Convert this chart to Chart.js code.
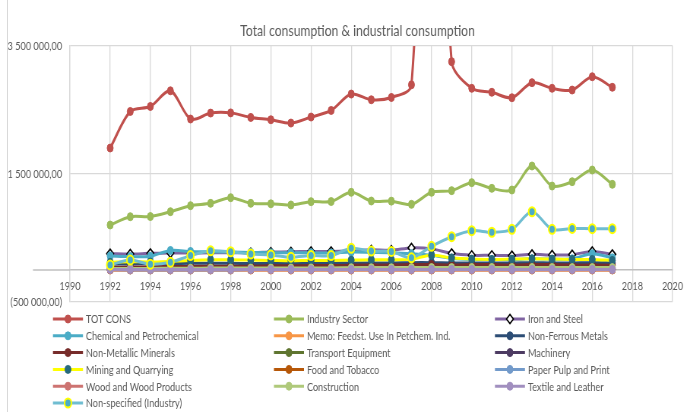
<!DOCTYPE html>
<html>
<head>
<meta charset="utf-8">
<title>Total consumption &amp; industrial consumption</title>
<script src="https://cdn.jsdelivr.net/npm/chart.js@4.4.1/dist/chart.umd.min.js"></script>
<style>
  html, body { margin: 0; padding: 0; background: #fff; overflow: hidden; }
  #wrap { position: relative; width: 690px; height: 412px; overflow: hidden; background: #fff; }
  #c { position: absolute; left: 0; top: 0; transform-origin: 0 0; }
  #edge { position: absolute; left: 7px; top: 0; width: 1px; height: 412px; background: #D9D9D9; }
</style>
</head>
<body>
<div id="wrap"><canvas id="c"></canvas><div id="edge"></div></div>
<script>
// Years on the horizontal axis
const years = [1992, 1993, 1994, 1995, 1996, 1997, 1998, 1999, 2000, 2001, 2002, 2003, 2004,
               2005, 2006, 2007, 2008, 2009, 2010, 2011, 2012, 2013, 2014, 2015, 2016, 2017];

// Axis ranges and tick steps
const xRange = [1990, 2020];
const xStep = 2;
const yRange = [-500000, 3500000];
const yStep = 2000000;

// Series values
const totCons = [1906000, 2477000, 2555000, 2800000, 2359000, 2452000, 2455000, 2384000, 2348000, 2296000,
                 2390000, 2493000, 2749000, 2660000, 2696000, 2894000, 10500000, 3255000, 2839000, 2777000,
                 2692000, 2927000, 2839000, 2812000, 3020000, 2855000];
const industrySector = [703000, 833000, 835000, 911000, 1005000, 1042000, 1130000, 1042000, 1035000, 1016000,
                        1068000, 1070000, 1214000, 1078000, 1076000, 1026000, 1214000, 1240000, 1365000, 1276000,
                        1250000, 1625000, 1312000, 1380000, 1562000, 1339000];
const ironSteel = [255000, 250000, 260000, 265000, 265000, 270000, 270000, 270000, 280000, 285000,
                   290000, 290000, 300000, 315000, 310000, 345000, 330000, 260000, 230000, 230000,
                   225000, 245000, 235000, 240000, 290000, 245000];
const chemical = [220000, 210000, 215000, 305000, 290000, 285000, 280000, 275000, 270000, 270000,
                  270000, 265000, 280000, 275000, 270000, 255000, 230000, 180000, 165000, 165000,
                  165000, 175000, 170000, 175000, 255000, 190000];
const memoFeedstock = [0, 0, 0, 0, 0, 0, 0, 0, 0, 0, 0, 0, 0, 0, 0, 0, 0, 0, 0, 0, 0, 0, 0, 0, 0, 0];
const nonFerrous = [95000, 95000, 100000, 100000, 105000, 105000, 105000, 100000, 100000, 100000,
                    105000, 105000, 110000, 110000, 110000, 115000, 115000, 110000, 110000, 110000,
                    110000, 115000, 110000, 110000, 115000, 110000];
const nonMetallic = [45000, 45000, 50000, 55000, 55000, 60000, 60000, 60000, 65000, 65000,
                     70000, 70000, 75000, 80000, 80000, 85000, 85000, 80000, 85000, 85000,
                     80000, 85000, 85000, 80000, 80000, 75000];
const transport = [10000, 10000, 10000, 10000, 10000, 10000, 10000, 10000, 10000, 10000,
                   10000, 10000, 12000, 12000, 12000, 12000, 12000, 12000, 12000, 12000,
                   12000, 12000, 12000, 12000, 12000, 12000];
const machinery = [15000, 15000, 15000, 15000, 15000, 15000, 15000, 15000, 15000, 15000,
                   16000, 16000, 18000, 18000, 18000, 18000, 18000, 18000, 18000, 18000,
                   18000, 18000, 18000, 18000, 18000, 18000];
const mining = [120000, 130000, 125000, 135000, 150000, 160000, 160000, 155000, 150000, 145000,
                150000, 150000, 155000, 160000, 160000, 170000, 230000, 190000, 170000, 165000,
                170000, 175000, 170000, 165000, 165000, 150000];
const foodTobacco = [2000, 2000, 2000, 2000, 2000, 2000, 2000, 2000, 2000, 2000,
                     2000, 2000, 2000, 2000, 2000, 2000, 2000, 2000, 2000, 2000,
                     2000, 2000, 2000, 2000, 2000, 2000];
const paperPulp = [6000, 1000, 1000, 1000, 1000, 1000, 1000, 7000, 7000, 7000,
                   7000, 7000, 7000, 7000, 7000, 7000, 7000, 7000, 7000, 7000,
                   7000, 7000, 7000, 7000, 7000, 7000];
const woodProducts = [5000, 5000, 5000, 5000, 5000, 5000, 5000, 5000, 5000, 5000,
                      5000, 5000, 5000, 5000, 5000, 5000, 5000, 5000, 5000, 5000,
                      5000, 5000, 5000, 5000, 5000, 5000];
const construction = [25000, 25000, 25000, 28000, 28000, 30000, 30000, 30000, 30000, 30000,
                      32000, 32000, 35000, 35000, 35000, 38000, 38000, 38000, 40000, 40000,
                      40000, 40000, 40000, 38000, 38000, 38000];
const textileLeather = [9000, 9000, 9000, 9000, 9000, 9000, 9000, 9000, 9000, 9000,
                        9000, 9000, 9000, 9000, 9000, 9000, 9000, 9000, 9000, 9000,
                        9000, 9000, 9000, 9000, 9000, 9000];
const nonSpecified = [80000, 155000, 90000, 120000, 225000, 300000, 285000, 250000, 235000, 200000,
                      225000, 225000, 340000, 295000, 290000, 190000, 370000, 520000, 615000, 590000,
                      635000, 910000, 635000, 650000, 645000, 645000];

const chartTitle = 'Total consumption & industrial consumption';

// The drawing is laid out on a wider canvas and squeezed horizontally
const SQUEEZE = 0.76;
const W = Math.round(690 / SQUEEZE);
const H = 412;
const FONT = 'Lato, "Open Sans", "Liberation Sans", sans-serif';
const TEXT = '#595959';

function pts(vals) {
  return vals.map((v, i) => ({ x: years[i], y: v }));
}

function series(label, vals, color, extra) {
  return Object.assign({
    label: label,
    data: pts(vals),
    borderColor: color,
    backgroundColor: color,
    pointBackgroundColor: color,
    pointBorderColor: color,
    pointBorderWidth: 1,
    pointRadius: 4,
    pointStyle: 'circle',
    borderWidth: 3,
    tension: 0.3,
    fill: false
  }, extra || {});
}

const datasets = [
  series('TOT CONS', totCons, '#C0504D'),
  series('Industry Sector', industrySector, '#9BBB59'),
  series('Iron and Steel', ironSteel, '#8064A2',
         { pointStyle: 'rectRot', pointRadius: 4.5, pointBackgroundColor: '#FFFFFF', pointBorderColor: '#000000', pointBorderWidth: 1.6 }),
  series('Chemical and Petrochemical', chemical, '#4BACC6'),
  series('Memo: Feedst. Use In Petchem. Ind.', memoFeedstock, '#F79646'),
  series('Non-Ferrous Metals', nonFerrous, '#2C4D75'),
  series('Non-Metallic Minerals', nonMetallic, '#772C2A'),
  series('Transport Equipment', transport, '#5F7530'),
  series('Machinery', machinery, '#4D3B62'),
  series('Mining and Quarrying', mining, '#FFFF00',
         { pointBackgroundColor: '#276A7C', pointBorderColor: '#276A7C' }),
  series('Food and Tobacco', foodTobacco, '#B65708'),
  series('Paper Pulp and Print', paperPulp, '#729ACA'),
  series('Wood and Wood Products', woodProducts, '#CD7371'),
  series('Construction', construction, '#AFC97A'),
  series('Textile and Leather', textileLeather, '#A18FBF'),
  series('Non-specified (Industry)', nonSpecified, '#6FBDD1',
         { pointRadius: 4.5, pointBackgroundColor: '#4BACC6', pointBorderColor: '#FFFF00', pointBorderWidth: 2 })
];
// later series are painted over earlier ones
datasets.forEach((d, i) => { d.order = datasets.length - i; });

function numberLabel(v) {
  const neg = v < 0;
  const parts = Math.abs(v).toFixed(2).split('.');
  const whole = parts[0].replace(/\B(?=(\d{3})+(?!\d))/g, '\u00a0');
  const s = whole + ',' + parts[1];
  return neg ? '(' + s + ')' : s;
}

// Title centred on the whole chart object
const chartHeading = {
  id: 'chartHeading',
  afterDraw(chart, args, o) {
    const ctx = chart.ctx;
    ctx.save();
    ctx.fillStyle = TEXT;
    ctx.font = o.size + 'px ' + FONT;
    ctx.textAlign = 'center';
    ctx.textBaseline = 'middle';
    ctx.fillText(o.text, o.x, o.y);
    ctx.restore();
  }
};

// Axis line at zero, carried a little past the value axis
const zeroLine = {
  id: 'zeroLine',
  beforeDatasetsDraw(chart, args, o) {
    const ctx = chart.ctx;
    const y0 = chart.scales.y.getPixelForValue(0);
    ctx.save();
    ctx.strokeStyle = o.color;
    ctx.lineWidth = o.width;
    ctx.beginPath();
    ctx.moveTo(o.from, y0);
    ctx.lineTo(chart.chartArea.left, y0);
    ctx.stroke();
    ctx.restore();
  }
};

// Three-column legend below the plot
const gridLegend = {
  id: 'gridLegend',
  afterDraw(chart, args, o) {
    const ctx = chart.ctx;
    chart.data.datasets.forEach((ds, i) => {
      const col = i % 3, row = Math.floor(i / 3);
      const x = o.left + col * o.colGap;
      const y = o.top + row * o.rowGap;
      ctx.save();
      ctx.strokeStyle = ds.borderColor;
      ctx.lineWidth = 3;
      ctx.beginPath();
      ctx.moveTo(x, y);
      ctx.lineTo(x + o.lineLen, y);
      ctx.stroke();
      ctx.fillStyle = ds.pointBackgroundColor;
      ctx.strokeStyle = ds.pointBorderColor;
      ctx.lineWidth = ds.pointBorderWidth;
      const cx = x + o.lineLen / 2;
      if (Chart.helpers && Chart.helpers.drawPoint) {
        Chart.helpers.drawPoint(ctx, { pointStyle: ds.pointStyle, radius: ds.pointRadius, rotation: 0, borderWidth: ds.pointBorderWidth }, cx, y);
      } else {
        ctx.beginPath();
        ctx.arc(cx, y, ds.pointRadius, 0, Math.PI * 2);
        ctx.fill();
        ctx.stroke();
      }
      ctx.fillStyle = TEXT;
      ctx.font = o.fontSize + 'px ' + FONT;
      ctx.textAlign = 'left';
      ctx.textBaseline = 'middle';
      ctx.fillText(ds.label, x + o.textOff, y + 0.5);
      ctx.restore();
    });
  }
};

const whiteBg = {
  id: 'whiteBg',
  beforeDraw(chart) {
    const ctx = chart.ctx;
    ctx.save();
    ctx.fillStyle = '#FFFFFF';
    ctx.fillRect(0, 0, chart.width, chart.height);
    ctx.restore();
  }
};

const canvas = document.getElementById('c');
canvas.width = W;
canvas.height = H;
canvas.style.width = W + 'px';
canvas.style.height = H + 'px';
canvas.style.transform = 'scaleX(' + (690 / W) + ')';

new Chart(canvas, {
  type: 'line',
  data: { datasets: datasets },
  plugins: [whiteBg, zeroLine, gridLegend, chartHeading],
  options: {
    responsive: false,
    animation: false,
    devicePixelRatio: 1,
    layout: { padding: { left: 8, right: 19.8, top: 46, bottom: 110 } },
    elements: { line: { capBezierPoints: false } },
    plugins: {
      legend: { display: false },
      tooltip: { enabled: false },
      title: { display: false },
      chartHeading: { text: chartTitle, x: 470.4, y: 31, size: 16 },
      zeroLine: { from: 43.4, color: '#BFBFBF', width: 1.5 },
      gridLegend: { left: 69.7, colGap: 290.8, lineLen: 39.5, textOff: 43.4, top: 319, rowGap: 16.8, fontSize: 12 }
    },
    scales: {
      x: {
        type: 'linear',
        position: { y: 0 },
        min: xRange[0],
        max: xRange[1],
        grid: { color: '#D9D9D9', lineWidth: 1.3, drawTicks: false },
        border: { display: true, color: '#BFBFBF', width: 1.5 },
        ticks: {
          stepSize: xStep,
          autoSkip: false,
          maxRotation: 0,
          padding: 9,
          color: TEXT,
          font: { family: FONT, size: 12 },
          callback: (v) => String(v)
        }
      },
      y: {
        type: 'linear',
        min: yRange[0],
        max: yRange[1],
        afterFit: (s) => { s.width = 84.1; },
        grid: { color: '#D9D9D9', lineWidth: 1.3, drawTicks: false },
        border: { display: true, color: '#D9D9D9', width: 1.3 },
        ticks: {
          stepSize: yStep,
          padding: 10.5,
          color: TEXT,
          font: { family: FONT, size: 12 },
          callback: (v) => numberLabel(v)
        }
      }
    }
  }
});
</script>
</body>
</html>
